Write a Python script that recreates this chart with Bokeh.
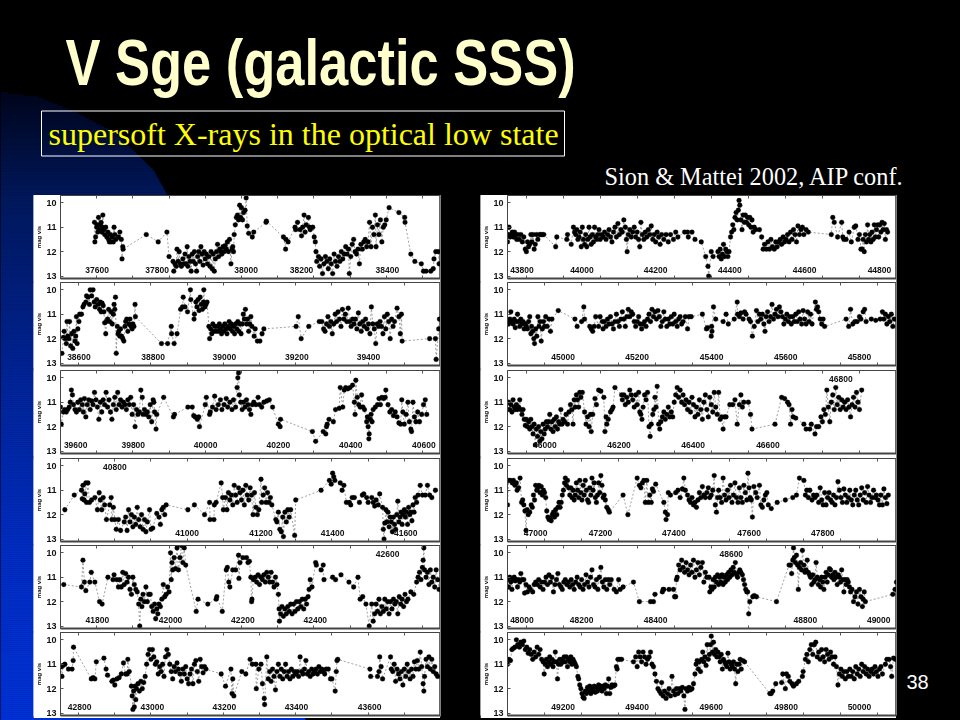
from bokeh.plotting import figure
from bokeh.layouts import column
from bokeh.embed import file_html
from bokeh.resources import INLINE
from bokeh.core.properties import value
from bokeh.models import Range1d, LinearAxis, FixedTicker, GlobalInlineStyleSheet
import numpy as np

title_text = "V Sge (galactic SSS)"
subtitle_text = "supersoft X-rays in the optical low state"
credit_text = "Sion & Mattei 2002, AIP conf."
slide_number = "38"

row_1 = [(37594,10.8),(37595,11.6),(37597,11.4),(37600,11.0),(37601,10.9),(37603,11.2),(37605,10.6),(37608,11.1),(37610,10.9),(37612,10.8),(37614,11.2),(37616,11.0),(37617,10.5),(37620,11.1),(37622,11.3),(37625,11.0),(37628,11.4),(37631,11.2),(37633,11.5),(37635,11.6),(37638,11.3),(37640,11.6),(37643,11.4),(37646,11.6),(37648,11.0),(37650,11.3),(37653,11.5),(37660,11.4),(37664,11.2),(37668,11.5),(37670,12.3),(37672,11.8),(37673,11.9),(37737,11.3),(37770,11.6),(37794,11.2),(37800,12.2),(37811,12.4),(37813,12.8),(37816,12.5),(37820,12.6),(37822,11.9),(37825,12.4),(37828,12.0),(37831,12.5),(37834,12.6),(37838,12.3),(37841,12.5),(37844,12.1),(37847,12.5),(37850,11.8),(37852,12.6),(37855,12.2),(37858,12.4),(37861,12.8),(37864,12.1),(37867,12.4),(37870,12.0),(37873,12.5),(37876,12.8),(37879,12.2),(37882,12.0),(37885,12.4),(37888,11.8),(37891,12.1),(37894,12.55),(37897,12.0),(37900,12.3),(37903,12.1),(37906,12.5),(37910,12.2),(37913,12.6),(37916,12.0),(37919,12.7),(37922,12.1),(37925,12.8),(37928,12.3),(37931,12.0),(37934,11.7),(37937,12.2),(37940,11.9),(37943,12.0),(37946,12.1),(37949,11.8),(37952,12.0),(37955,11.75),(37958,11.9),(37961,11.6),(37964,12.0),(37967,11.5),(37971,12.5),(37974,11.9),(37976,11.8),(37978,12.0),(37980,11.3),(37983,10.9),(37986,10.6),(37989,10.5),(37992,10.7),(37995,10.1),(37998,10.6),(38000,10.2),(38003,10.7),(38006,10.4),(38010,10.3),(38013,9.8),(38016,10.95),(38020,11.25),(38030,11.4),(38034,11.2),(38068,10.8),(38069,10.75),(38116,11.4),(38122,11.9),(38123,11.5),(38129,11.6),(38148,11.0),(38150,11.1),(38155,10.8),(38162,11.1),(38166,11.35),(38169,11.0),(38173,10.5),(38176,11.2),(38179,10.9),(38185,10.6),(38188,11.0),(38190,11.1),(38197,11.0),(38201,11.4),(38204,11.6),(38206,12.0),(38208,12.4),(38213,12.2),(38216,12.6),(38220,12.3),(38224,12.9),(38228,12.5),(38232,12.2),(38236,12.4),(38240,12.7),(38244,12.3),(38248,12.5),(38252,12.9),(38256,12.1),(38260,12.4),(38264,12.6),(38268,12.2),(38272,12.4),(38276,12.0),(38280,12.3),(38284,12.1),(38288,11.8),(38292,12.1),(38296,11.9),(38298,12.9),(38302,12.2),(38306,11.7),(38310,11.5),(38314,12.0),(38318,12.1),(38322,11.9),(38326,12.5),(38330,11.7),(38334,11.9),(38338,11.6),(38342,11.5),(38346,11.8),(38350,11.6),(38354,10.8),(38358,11.8),(38362,11.0),(38366,11.3),(38370,10.5),(38372,11.8),(38376,10.9),(38380,11.3),(38384,10.7),(38388,11.6),(38392,11.0),(38396,10.9),(38400,10.7),(38408,10.2),(38435,10.4),(38451,10.6),(38452,10.8),(38468,12.1),(38479,12.4),(38497,12.5),(38503,12.8),(38510,12.8),(38523,12.8),(38530,12.7),(38532,12.3),(38537,12.0),(38544,12.0),(38546,12.5)]

row_2 = [(38554,12.6),(38558,11.95),(38560,11.7),(38563,12.0),(38566,12.2),(38568,11.3),(38570,11.9),(38573,12.0),(38575,11.3),(38578,12.3),(38581,11.8),(38584,12.4),(38587,11.7),(38590,12.1),(38592,11.9),(38594,11.1),(38596,12.2),(38598,11.6),(38601,11.3),(38603,11.0),(38608,11.0),(38612,10.7),(38615,10.6),(38620,10.5),(38622,10.25),(38626,10.3),(38630,10.6),(38632,10.0),(38636,10.25),(38640,10.0),(38643,10.5),(38646,10.7),(38650,10.4),(38654,10.6),(38658,10.8),(38660,10.5),(38662,10.9),(38665,10.55),(38668,10.65),(38670,10.9),(38672,11.35),(38675,11.8),(38677,11.3),(38680,11.2),(38683,10.8),(38686,11.3),(38690,10.9),(38693,11.4),(38696,11.0),(38698,10.6),(38700,10.8),(38702,10.3),(38704,12.6),(38707,11.5),(38709,11.8),(38711,11.7),(38714,11.9),(38716,11.6),(38719,11.9),(38722,12.0),(38725,12.1),(38728,11.5),(38730,11.3),(38733,11.2),(38736,11.7),(38739,11.4),(38742,11.2),(38745,11.5),(38748,11.6),(38750,11.4),(38753,11.5),(38756,10.6),(38757,11.1),(38829,12.2),(38846,12.2),(38856,11.5),(38857,11.8),(38864,12.2),(38872,11.8),(38882,10.8),(38887,10.7),(38889,10.3),(38894,10.7),(38901,10.9),(38909,10.0),(38910,10.4),(38919,11.2),(38920,11.0),(38924,10.5),(38927,10.7),(38930,10.4),(38933,10.85),(38936,10.3),(38939,10.6),(38942,10.8),(38945,10.5),(38946,10.0),(38949,10.7),(38952,10.6),(38955,10.5),(38960,11.5),(38962,12.0),(38965,11.6),(38968,11.8),(38971,11.4),(38974,11.7),(38977,11.5),(38980,11.7),(38983,11.5),(38986,11.7),(38989,11.4),(38992,11.6),(38995,11.8),(38998,11.5),(39001,11.7),(39004,11.4),(39007,11.6),(39010,11.8),(39013,11.5),(39016,11.3),(39019,11.6),(39022,11.4),(39025,11.7),(39028,11.5),(39031,11.8),(39034,11.4),(39037,11.6),(39040,11.3),(39043,11.7),(39046,11.4),(39049,11.8),(39052,11.4),(39055,11.0),(39058,11.2),(39061,10.8),(39064,11.4),(39067,11.2),(39070,11.7),(39073,11.4),(39076,11.1),(39079,11.5),(39085,11.9),(39088,11.6),(39094,12.1),(39101,12.1),(39107,11.8),(39112,11.6),(39201,11.5),(39207,11.1),(39215,12.0),(39236,11.5),(39265,11.3),(39272,11.3),(39277,11.6),(39281,11.7),(39285,11.4),(39289,11.1),(39293,11.5),(39297,11.3),(39301,11.8),(39305,11.4),(39309,11.0),(39313,11.3),(39317,10.9),(39321,11.2),(39325,11.5),(39329,10.8),(39333,11.2),(39337,11.0),(39341,11.3),(39345,10.75),(39349,11.3),(39353,11.5),(39357,11.2),(39361,11.4),(39365,11.2),(39369,11.6),(39373,10.95),(39377,11.4),(39381,11.7),(39385,11.3),(39389,11.5),(39393,11.2),(39397,11.6),(39401,11.4),(39405,11.8),(39409,10.7),(39413,11.4),(39417,11.6),(39421,12.2),(39425,11.4),(39429,11.5),(39433,11.3),(39437,11.5),(39441,11.8),(39445,11.1),(39449,11.6),(39453,11.0),(39457,11.3),(39461,12.0),(39465,11.2),(39469,11.5),(39473,11.3),(39480,10.75),(39485,11.1),(39489,11.8),(39492,11.0),(39494,12.1),(39570,12.0),(39586,12.0),(39588,12.85),(39595,11.6),(39597,11.2)]

row_3 = [(39600,11.2),(39602,11.9),(39608,11.4),(39612,11.3),(39616,11.4),(39620,11.3),(39624,11.2),(39627,11.0),(39630,10.5),(39633,10.7),(39636,11.1),(39640,11.3),(39644,11.4),(39648,11.0),(39652,11.3),(39656,10.9),(39660,11.1),(39663,11.4),(39666,10.85),(39670,11.6),(39674,11.1),(39678,10.9),(39682,11.3),(39686,10.95),(39690,11.1),(39694,10.6),(39698,10.9),(39702,11.2),(39706,11.7),(39710,11.0),(39714,11.4),(39718,10.9),(39722,11.1),(39726,10.6),(39730,11.2),(39734,10.9),(39738,11.4),(39742,11.7),(39746,11.1),(39750,10.8),(39754,11.3),(39758,10.6),(39762,11.1),(39766,10.9),(39770,11.2),(39774,11.0),(39778,11.1),(39782,11.3),(39786,10.9),(39790,11.1),(39794,10.8),(39798,11.5),(39802,11.1),(39806,12.0),(39810,11.3),(39814,11.5),(39818,11.4),(39822,10.5),(39826,10.8),(39828,11.5),(39832,11.3),(39836,11.5),(39840,11.4),(39844,11.6),(39848,11.1),(39852,11.8),(39856,10.9),(39858,11.0),(39860,11.4),(39864,12.1),(39866,11.5),(39885,10.8),(39912,11.6),(39915,11.5),(39952,11.2),(39964,11.2),(39968,11.55),(39972,11.6),(39978,11.7),(39982,11.6),(39984,12.0),(40000,11.1),(40003,10.8),(40012,11.5),(40014,11.4),(40020,11.2),(40026,10.75),(40030,11.3),(40036,11.1),(40042,10.9),(40046,11.3),(40052,11.1),(40058,10.85),(40062,11.2),(40068,11.0),(40074,11.3),(40078,10.9),(40084,11.2),(40088,10.4),(40090,10.0),(40092,9.8),(40094,10.7),(40098,11.0),(40102,11.3),(40106,11.0),(40110,11.2),(40114,10.9),(40118,11.1),(40122,11.3),(40126,11.5),(40130,11.1),(40134,11.0),(40140,11.1),(40146,10.8),(40150,11.1),(40156,11.2),(40162,11.0),(40170,10.95),(40177,10.9),(40186,11.2),(40202,11.9),(40207,12.0),(40208,11.7),(40296,12.2),(40305,12.6),(40326,12.2),(40333,12.3),(40335,12.0),(40337,11.9),(40342,11.7),(40354,11.8),(40360,11.3),(40370,11.25),(40373,10.4),(40380,11.2),(40384,10.5),(40388,10.4),(40394,10.45),(40400,10.4),(40407,10.3),(40412,11.0),(40414,11.5),(40416,10.1),(40420,10.8),(40424,11.1),(40428,11.2),(40432,10.7),(40436,11.2),(40440,11.3),(40446,11.8),(40448,11.6),(40450,12.0),(40452,12.5),(40453,12.3),(40456,11.7),(40458,11.5),(40461,11.8),(40464,11.3),(40470,11.2),(40476,11.1),(40480,10.85),(40484,11.1),(40488,10.8),(40493,10.85),(40497,10.8),(40499,10.5),(40505,11.1),(40510,11.4),(40515,11.3),(40520,11.55),(40525,11.4),(40530,11.6),(40535,11.85),(40540,11.9),(40543,10.9),(40546,11.4),(40550,11.9),(40555,11.5),(40560,11.0),(40564,11.8),(40568,12.1),(40570,12.2),(40574,11.0),(40578,11.6),(40582,11.8),(40587,11.4),(40592,11.8),(40598,11.5),(40603,11.1),(40608,10.9),(40612,11.5)]

row_4 = [(40662,11.8),(40688,11.2),(40708,11.0),(40710,11.35),(40712,10.8),(40715,11.4),(40717,11.15),(40720,10.7),(40722,11.5),(40726,10.7),(40730,11.5),(40736,11.4),(40745,11.3),(40752,11.8),(40757,11.1),(40760,11.4),(40764,11.8),(40768,11.3),(40772,11.6),(40777,12.2),(40786,11.6),(40790,11.3),(40792,12.2),(40796,11.7),(40800,12.2),(40804,12.6),(40810,12.2),(40816,12.65),(40826,12.3),(40830,12.1),(40834,12.65),(40838,11.8),(40842,12.3),(40846,12.0),(40850,12.5),(40854,12.1),(40858,12.4),(40862,11.7),(40866,12.2),(40870,12.5),(40874,12.0),(40878,12.6),(40882,12.2),(40886,12.7),(40890,12.3),(40896,11.8),(40900,12.6),(40905,12.55),(40916,11.95),(40922,12.1),(40926,12.4),(40930,11.8),(40934,11.7),(40938,12.0),(40942,11.6),(41002,11.8),(41020,11.6),(41048,12.0),(41062,11.5),(41063,12.2),(41074,12.2),(41075,11.6),(41080,11.5),(41094,10.7),(41098,11.3),(41100,11.8),(41106,11.3),(41110,11.8),(41114,11.1),(41118,11.4),(41122,11.2),(41126,11.6),(41130,10.8),(41134,11.2),(41138,11.5),(41142,10.9),(41146,11.1),(41150,11.4),(41154,11.0),(41158,11.6),(41162,10.8),(41166,11.2),(41170,11.4),(41174,10.9),(41178,11.2),(41182,12.0),(41186,11.1),(41190,11.7),(41194,12.0),(41198,11.8),(41204,10.55),(41206,11.5),(41210,11.2),(41214,10.9),(41218,11.5),(41222,11.1),(41226,11.5),(41230,11.3),(41234,11.6),(41245,12.2),(41248,12.3),(41252,11.9),(41256,12.6),(41260,12.7),(41264,12.1),(41266,12.9),(41270,11.9),(41274,12.3),(41278,11.8),(41282,12.1),(41286,11.8),(41297,12.85),(41300,11.4),(41370,11.0),(41393,10.6),(41398,10.75),(41402,10.3),(41405,10.45),(41408,10.6),(41423,10.7),(41428,11.0),(41433,10.8),(41440,11.5),(41448,11.5),(41452,11.6),(41456,11.3),(41462,11.3),(41476,11.5),(41484,11.2),(41488,11.15),(41496,11.3),(41500,11.5),(41510,11.3),(41514,11.5),(41518,11.65),(41522,11.4),(41528,11.6),(41532,11.15),(41540,11.7),(41542,12.6),(41544,13.0),(41546,12.35),(41549,11.8),(41552,12.3),(41555,11.9),(41558,12.5),(41561,12.1),(41564,12.3),(41567,12.7),(41570,12.1),(41573,12.4),(41576,12.6),(41579,12.0),(41582,11.45),(41585,12.3),(41588,12.1),(41591,11.9),(41594,12.4),(41597,12.0),(41600,11.8),(41603,12.1),(41606,11.9),(41609,12.4),(41612,11.7),(41615,12.0),(41618,11.9),(41621,12.25),(41624,11.6),(41627,11.9),(41630,11.3),(41634,11.5),(41638,11.2),(41644,10.8),(41650,11.2),(41658,11.2),(41664,10.8),(41670,11.2),(41676,11.3),(41686,11.0)]

row_5 = [(41709,11.3),(41758,11.4),(41762,10.3),(41766,11.2),(41770,11.55),(41781,11.2),(41785,10.8),(41795,11.2),(41808,12.0),(41815,12.1),(41831,11.0),(41845,11.1),(41848,10.9),(41856,11.1),(41860,11.4),(41864,11.1),(41868,11.4),(41872,10.8),(41876,11.3),(41880,10.85),(41884,11.2),(41888,11.0),(41892,11.5),(41896,11.7),(41900,11.0),(41904,11.3),(41908,11.5),(41912,11.6),(41916,12.1),(41919,13.0),(41922,11.9),(41925,12.2),(41928,11.7),(41932,12.0),(41936,11.4),(41940,12.0),(41944,11.7),(41948,11.7),(41952,12.2),(41956,12.4),(41960,12.1),(41963,12.7),(41966,12.3),(41969,12.5),(41972,12.1),(41976,12.2),(41980,11.9),(41984,11.3),(41988,11.8),(41992,11.7),(41996,11.4),(42000,11.6),(42004,10.0),(42006,11.1),(42008,10.4),(42010,10.7),(42014,10.2),(42018,10.65),(42022,9.8),(42026,10.7),(42030,10.2),(42034,9.7),(42038,10.4),(42042,9.8),(42046,10.5),(42075,12.4),(42080,11.9),(42107,12.1),(42130,11.9),(42132,11.8),(42147,12.4),(42158,10.7),(42161,10.6),(42165,11.2),(42168,11.4),(42176,10.7),(42184,10.7),(42192,10.1),(42193,11.05),(42196,10.4),(42204,10.2),(42214,10.2),(42218,10.4),(42222,10.35),(42226,11.0),(42228,12.0),(42229,11.9),(42233,11.1),(42238,11.0),(42242,11.2),(42246,10.9),(42250,11.3),(42254,11.0),(42258,11.1),(42262,10.9),(42266,11.2),(42270,10.8),(42274,11.0),(42278,11.2),(42282,10.8),(42286,11.2),(42290,11.4),(42294,11.0),(42298,11.3),(42302,11.7),(42304,12.3),(42305,12.8),(42308,12.5),(42312,12.2),(42316,12.6),(42320,12.3),(42324,12.5),(42328,12.2),(42332,12.4),(42336,12.1),(42340,12.5),(42344,12.1),(42348,12.4),(42352,12.0),(42356,12.3),(42360,12.0),(42364,12.2),(42368,11.9),(42372,12.3),(42376,11.9),(42380,12.1),(42384,11.8),(42387,11.5),(42390,11.1),(42395,11.4),(42405,10.4),(42407,10.5),(42420,10.7),(42426,10.5),(42428,11.1),(42452,11.0),(42460,11.1),(42475,10.9),(42497,11.2),(42510,11.4),(42522,11.0),(42528,11.9),(42535,11.8),(42544,12.1),(42553,13.0),(42560,12.1),(42564,12.8),(42568,12.5),(42572,12.1),(42576,12.4),(42580,11.9),(42584,12.5),(42588,12.2),(42592,12.4),(42596,11.9),(42600,12.3),(42604,12.0),(42608,12.5),(42612,12.0),(42616,12.3),(42620,11.9),(42624,12.1),(42628,12.0),(42632,12.5),(42636,11.8),(42640,12.1),(42644,11.9),(42648,12.2),(42652,11.7),(42656,12.0),(42660,11.9),(42668,11.6),(42676,11.7),(42684,11.2),(42688,11.0),(42692,10.8),(42696,11.1),(42700,10.6),(42702,10.3),(42704,9.8),(42706,10.7),(42710,11.0),(42714,10.8),(42718,11.3),(42722,10.7),(42726,11.2),(42730,11.0),(42734,11.4),(42738,10.7),(42742,11.1),(42746,11.5)]

row_6 = [(42753,11.1),(42754,11.5),(42757,11.05),(42762,11.0),(42772,11.2),(42782,11.2),(42785,10.85),(42786,10.3),(42835,11.6),(42840,11.55),(42845,11.6),(42849,10.9),(42870,10.75),(42876,11.2),(42880,11.45),(42892,11.7),(42896,11.65),(42900,11.85),(42906,11.6),(42912,11.55),(42918,11.4),(42924,10.95),(42930,11.4),(42934,11.4),(42936,10.8),(42940,11.3),(42946,11.9),(42948,12.3),(42950,12.85),(42952,12.1),(42954,12.75),(42956,11.9),(42958,12.45),(42960,12.0),(42964,11.8),(42968,12.1),(42972,11.7),(42976,12.0),(42980,11.75),(42984,11.5),(42988,11.0),(42992,10.6),(42996,10.4),(43000,10.8),(43004,10.4),(43008,10.7),(43012,11.0),(43016,10.9),(43020,11.4),(43024,11.1),(43028,11.3),(43032,11.0),(43036,11.5),(43040,10.7),(43044,10.4),(43048,10.6),(43052,11.0),(43056,11.3),(43060,11.6),(43064,11.1),(43068,11.3),(43072,10.95),(43076,11.2),(43080,11.4),(43084,11.7),(43088,11.2),(43092,11.4),(43096,11.1),(43100,11.6),(43104,11.8),(43108,11.4),(43112,11.2),(43116,11.8),(43120,11.0),(43124,10.85),(43128,11.3),(43132,11.7),(43136,10.8),(43140,11.1),(43144,11.35),(43148,11.1),(43152,11.2),(43194,11.4),(43206,11.9),(43221,11.2),(43224,12.2),(43226,11.6),(43229,12.3),(43251,11.3),(43262,11.4),(43274,10.8),(43280,11.0),(43290,11.0),(43291,12.0),(43298,11.2),(43304,11.0),(43308,11.8),(43313,12.4),(43314,12.65),(43320,10.7),(43324,11.6),(43328,11.3),(43332,11.7),(43336,11.2),(43340,11.5),(43344,12.05),(43348,11.3),(43352,11.0),(43356,11.5),(43360,11.2),(43364,11.6),(43368,11.3),(43372,11.0),(43376,11.5),(43380,11.3),(43384,11.6),(43388,11.2),(43392,11.5),(43396,11.3),(43400,11.4),(43404,11.3),(43408,11.5),(43412,10.7),(43416,11.3),(43420,11.4),(43424,11.2),(43428,10.85),(43432,11.4),(43436,11.3),(43440,11.5),(43444,11.2),(43448,11.4),(43452,11.3),(43456,11.2),(43460,11.4),(43464,11.1),(43468,11.3),(43472,11.2),(43476,11.3),(43480,11.4),(43484,11.2),(43490,11.2),(43496,11.6),(43500,11.6),(43509,12.1),(43512,11.3),(43514,10.85),(43516,10.8),(43605,11.2),(43607,11.5),(43626,11.5),(43630,11.3),(43632,10.7),(43636,11.1),(43640,11.6),(43662,10.7),(43664,11.2),(43668,11.3),(43672,11.0),(43676,11.7),(43680,11.2),(43684,11.4),(43688,11.6),(43692,11.3),(43696,11.85),(43700,11.2),(43704,11.5),(43708,11.0),(43712,11.3),(43716,11.6),(43720,11.2),(43724,11.5),(43728,10.9),(43732,11.2),(43736,10.85),(43740,11.2),(43744,10.5),(43748,11.1),(43752,11.8),(43754,12.1),(43756,11.5),(43760,10.8),(43764,11.1),(43768,10.7),(43772,11.2),(43776,10.8),(43780,11.3),(43784,11.1),(43788,11.4),(43792,11.5)]

row_7 = [(43750,11.6),(43752,11.3),(43754,11.0),(43757,11.4),(43760,11.3),(43763,11.2),(43766,11.4),(43769,11.2),(43772,11.3),(43775,11.5),(43778,11.3),(43782,11.5),(43786,11.3),(43790,11.6),(43794,11.4),(43798,11.9),(43801,12.0),(43804,11.6),(43807,11.8),(43810,11.7),(43813,11.3),(43816,11.6),(43819,11.3),(43822,11.9),(43825,11.7),(43828,11.3),(43832,11.5),(43836,11.3),(43840,11.3),(43844,11.3),(43848,11.3),(43880,11.8),(43883,11.4),(43910,11.5),(43912,11.3),(43922,11.7),(43928,11.0),(43931,11.2),(43934,11.3),(43937,11.1),(43940,11.5),(43943,11.4),(43946,11.2),(43949,11.8),(43952,11.0),(43955,11.5),(43958,11.7),(43961,11.3),(43964,11.8),(43967,11.5),(43970,11.0),(43973,11.4),(43976,11.7),(43979,11.3),(43982,11.6),(43985,11.0),(43988,11.4),(43991,11.5),(43994,11.3),(43997,11.1),(44000,11.5),(44004,11.3),(44008,11.4),(44012,11.2),(44016,11.5),(44020,11.3),(44024,11.1),(44028,11.4),(44032,11.6),(44036,11.2),(44040,11.0),(44044,11.4),(44048,10.85),(44052,11.3),(44056,11.1),(44060,11.2),(44064,10.7),(44068,11.0),(44071,11.5),(44073,12.0),(44076,11.3),(44080,11.1),(44084,11.4),(44088,11.2),(44092,11.0),(44096,11.4),(44100,11.2),(44104,11.5),(44107,11.8),(44110,10.8),(44114,11.3),(44118,11.5),(44122,11.2),(44126,11.4),(44130,11.1),(44134,11.3),(44138,10.95),(44142,11.5),(44146,11.3),(44150,11.6),(44154,11.2),(44158,11.4),(44162,11.7),(44166,11.3),(44172,11.5),(44178,11.3),(44184,11.6),(44190,11.3),(44198,11.5),(44204,11.2),(44210,11.4),(44228,11.2),(44236,11.2),(44238,11.4),(44248,11.2),(44256,11.5),(44273,11.6),(44285,12.2),(44291,12.6),(44293,13.0),(44300,12.0),(44305,12.2),(44318,12.0),(44321,12.2),(44324,11.9),(44327,12.3),(44330,12.1),(44333,11.7),(44336,12.2),(44339,11.9),(44342,12.0),(44345,12.2),(44348,12.0),(44352,11.4),(44355,11.2),(44358,10.9),(44361,11.1),(44364,10.6),(44367,10.4),(44370,10.7),(44373,10.3),(44375,9.9),(44377,10.1),(44380,10.7),(44383,11.1),(44386,10.5),(44389,10.8),(44392,10.5),(44395,10.8),(44398,10.6),(44401,10.9),(44404,10.6),(44407,11.0),(44410,10.7),(44413,11.2),(44416,11.0),(44420,11.1),(44430,11.1),(44436,11.4),(44440,11.9),(44444,11.7),(44449,11.9),(44453,11.6),(44457,11.9),(44461,11.5),(44465,11.8),(44470,11.9),(44474,11.6),(44478,11.8),(44482,11.6),(44486,11.5),(44490,11.7),(44494,11.4),(44498,11.6),(44502,11.5),(44506,11.3),(44510,11.6),(44514,11.2),(44518,11.5),(44522,11.1),(44526,11.3),(44530,11.6),(44534,10.95),(44538,11.3),(44542,11.1),(44546,11.0),(44550,11.3),(44556,11.1),(44562,11.2),(44624,11.3),(44628,10.6),(44632,10.8),(44641,11.4),(44652,10.8),(44655,11.4),(44658,11.5),(44664,11.5),(44672,11.2),(44678,11.6),(44686,11.0),(44690,10.95),(44696,11.5),(44700,11.3),(44704,11.9),(44707,11.9),(44710,11.5),(44713,12.0),(44716,11.3),(44719,11.6),(44722,10.9),(44725,11.5),(44728,11.3),(44731,11.6),(44734,11.2),(44737,11.5),(44740,10.9),(44743,11.4),(44746,11.1),(44749,10.9),(44752,11.4),(44755,10.9),(44758,11.2),(44761,10.8),(44764,11.1),(44767,10.85),(44770,11.5),(44773,11.1),(44776,11.2)]

row_8 = [(44800,11.3),(44803,11.4),(44806,11.2),(44809,10.9),(44812,11.3),(44815,11.4),(44818,11.2),(44821,11.55),(44824,11.3),(44827,11.0),(44830,11.3),(44833,11.5),(44836,11.2),(44839,11.4),(44842,11.3),(44845,11.6),(44848,11.4),(44851,11.5),(44854,11.6),(44857,11.3),(44860,11.1),(44863,11.8),(44865,11.5),(44868,11.7),(44871,12.0),(44873,12.2),(44876,11.6),(44879,11.9),(44882,11.1),(44885,11.5),(44888,11.3),(44891,12.1),(44894,11.6),(44897,11.3),(44900,11.5),(44903,11.1),(44907,11.5),(44912,11.2),(44916,11.7),(44920,11.2),(44937,10.85),(44982,11.2),(44988,11.5),(45000,11.3),(45006,10.7),(45008,11.2),(45022,11.5),(45026,11.6),(45030,11.7),(45034,11.5),(45038,11.1),(45046,11.5),(45050,11.1),(45056,11.3),(45058,11.6),(45062,11.3),(45066,11.5),(45070,11.2),(45074,11.4),(45078,11.1),(45082,11.4),(45086,11.6),(45090,11.3),(45094,11.0),(45098,11.3),(45102,11.5),(45106,11.2),(45110,10.9),(45114,11.2),(45118,11.5),(45122,11.1),(45126,10.8),(45130,11.1),(45134,10.9),(45138,11.0),(45142,11.3),(45146,11.5),(45150,11.3),(45154,11.1),(45158,11.4),(45162,11.6),(45166,11.4),(45170,11.3),(45174,11.5),(45178,11.2),(45182,11.0),(45186,11.3),(45190,10.8),(45194,11.1),(45198,10.9),(45202,11.2),(45206,10.85),(45210,11.1),(45214,11.5),(45218,11.3),(45222,10.9),(45226,11.2),(45230,11.5),(45234,11.2),(45238,11.4),(45242,11.1),(45246,11.4),(45250,11.0),(45254,11.3),(45258,11.5),(45262,11.2),(45266,11.1),(45270,11.4),(45274,11.3),(45280,11.1),(45286,11.6),(45290,11.1),(45296,11.1),(45326,11.0),(45337,11.6),(45340,11.55),(45350,11.9),(45351,11.5),(45352,11.7),(45356,10.7),(45362,11.2),(45382,11.3),(45390,11.0),(45396,11.4),(45412,11.2),(45420,10.5),(45421,11.0),(45426,11.1),(45430,10.95),(45436,11.2),(45440,10.9),(45444,11.0),(45452,11.2),(45456,11.3),(45461,11.9),(45466,11.5),(45472,10.85),(45476,11.3),(45480,11.0),(45484,11.2),(45488,11.0),(45492,11.4),(45495,11.7),(45498,11.1),(45502,10.9),(45506,11.3),(45510,11.1),(45514,10.6),(45518,11.2),(45522,11.0),(45526,10.8),(45530,11.1),(45534,10.7),(45538,10.9),(45542,11.1),(45546,11.4),(45550,11.2),(45554,11.0),(45558,11.3),(45562,11.1),(45566,11.4),(45570,11.1),(45574,11.3),(45578,11.0),(45582,11.3),(45586,10.9),(45590,11.2),(45594,11.4),(45598,10.85),(45602,11.2),(45606,11.4),(45610,10.9),(45614,11.3),(45618,11.0),(45622,11.4),(45631,10.5),(45634,10.8),(45637,10.7),(45640,10.9),(45644,11.2),(45648,11.4),(45652,11.2),(45656,11.5),(45714,11.2),(45721,11.5),(45726,10.8),(45732,11.4),(45738,11.3),(45744,11.3),(45750,11.1),(45754,11.2),(45760,10.9),(45764,10.8),(45768,11.3),(45782,11.2),(45794,11.25),(45806,11.2),(45812,10.9),(45816,11.2),(45820,11.0),(45824,11.4),(45828,11.1),(45832,11.3),(45836,11.0),(45840,11.5),(45844,11.2)]

row_9 = [(45850,11.3),(45853,11.0),(45856,11.3),(45859,11.1),(45862,11.4),(45865,10.9),(45868,11.2),(45871,11.3),(45874,11.1),(45877,11.3),(45880,11.2),(45883,10.9),(45886,11.3),(45889,11.5),(45892,11.3),(45895,11.7),(45898,11.95),(45901,11.7),(45904,12.0),(45907,11.8),(45910,12.1),(45913,11.7),(45916,12.0),(45919,12.3),(45922,11.9),(45925,12.75),(45928,12.1),(45931,12.4),(45934,12.0),(45937,12.6),(45940,12.2),(45943,12.5),(45946,11.9),(45949,12.3),(45952,12.1),(45955,11.8),(45958,12.0),(45961,11.8),(45964,11.5),(45967,12.1),(45970,11.8),(45973,12.2),(45976,11.7),(45979,12.0),(45982,11.6),(45985,12.1),(45988,11.8),(45991,11.9),(45994,11.3),(45997,11.9),(46000,11.7),(46004,11.8),(46008,11.5),(46012,11.9),(46016,11.4),(46020,11.1),(46024,11.3),(46027,11.9),(46030,10.9),(46033,11.2),(46036,10.7),(46039,10.9),(46042,11.2),(46045,10.6),(46048,10.8),(46052,10.6),(46058,11.4),(46062,11.9),(46066,11.6),(46070,12.0),(46074,11.5),(46076,12.2),(46080,11.5),(46086,10.85),(46090,11.1),(46096,10.5),(46102,10.55),(46110,10.8),(46113,12.2),(46116,11.6),(46118,11.9),(46122,11.7),(46128,11.4),(46132,11.3),(46135,11.2),(46140,10.4),(46158,10.7),(46160,10.9),(46164,10.7),(46168,11.1),(46172,10.8),(46176,11.0),(46180,10.5),(46184,10.7),(46188,10.9),(46192,11.2),(46196,10.7),(46200,11.1),(46204,10.6),(46207,11.4),(46210,11.5),(46213,11.7),(46216,11.2),(46220,10.7),(46224,10.9),(46228,10.6),(46232,12.0),(46235,12.4),(46238,11.9),(46242,11.5),(46245,11.3),(46248,10.8),(46251,11.2),(46254,10.35),(46258,11.9),(46261,12.1),(46264,11.8),(46268,11.6),(46272,11.4),(46276,11.7),(46280,11.5),(46284,11.2),(46288,11.6),(46292,11.4),(46296,11.6),(46300,11.0),(46304,10.7),(46308,10.4),(46312,10.8),(46316,10.5),(46320,11.0),(46324,10.7),(46328,11.1),(46332,10.9),(46336,11.3),(46340,11.0),(46344,11.4),(46348,10.8),(46352,11.1),(46356,11.6),(46360,11.2),(46364,11.5),(46368,10.9),(46372,11.3),(46376,11.7),(46380,11.0),(46384,10.7),(46388,11.3),(46392,11.6),(46396,10.8),(46400,11.1),(46404,11.4),(46408,10.6),(46412,11.2),(46416,11.5),(46420,10.6),(46424,11.7),(46428,11.6),(46432,12.1),(46436,11.6),(46440,11.6),(46450,11.1),(46458,11.1),(46464,10.9),(46470,11.9),(46476,11.1),(46480,10.7),(46484,11.2),(46488,11.0),(46500,11.0),(46506,11.5),(46510,12.1),(46572,11.9),(46590,10.8),(46598,10.85),(46606,11.0),(46610,11.1),(46614,11.9),(46618,11.3),(46621,11.6),(46628,11.65),(46650,11.9),(46656,12.1),(46666,12.1),(46670,11.9),(46680,12.3),(46684,12.0),(46690,12.0),(46696,11.6),(46700,11.8),(46704,11.3),(46708,11.5),(46712,10.5),(46716,11.2),(46720,11.8),(46724,11.0),(46728,10.7),(46732,11.3),(46736,10.4),(46740,11.1),(46744,10.8),(46748,11.3),(46752,10.9),(46756,11.2),(46760,11.0),(46764,11.3),(46768,10.9),(46772,11.2),(46776,11.6),(46780,11.1),(46784,10.8),(46788,11.2),(46792,10.6),(46796,11.0),(46800,11.3),(46806,10.5)]

row_10 = [(46900,11.6),(46903,10.6),(46908,10.6),(46913,10.7),(46916,10.6),(46920,10.8),(46924,10.7),(46926,11.0),(46930,10.9),(46934,10.5),(46938,11.5),(46941,11.4),(46944,11.6),(46947,11.85),(46950,12.65),(46953,11.8),(46956,12.0),(46960,11.9),(46964,11.6),(46967,11.7),(46970,11.2),(46973,11.4),(46976,10.8),(46979,11.0),(46982,10.9),(46985,10.8),(46988,11.1),(46991,10.85),(46994,11.2),(46997,11.0),(47000,11.1),(47003,11.3),(47006,11.85),(47009,12.1),(47012,12.2),(47015,12.15),(47018,12.25),(47021,12.0),(47024,11.9),(47027,12.1),(47030,11.8),(47033,12.0),(47036,11.7),(47039,11.5),(47042,11.7),(47045,11.5),(47048,11.2),(47051,11.0),(47054,10.7),(47056,10.5),(47059,10.8),(47062,10.6),(47065,10.9),(47068,11.2),(47071,10.9),(47074,11.3),(47077,11.0),(47080,11.4),(47083,11.2),(47086,10.7),(47089,11.0),(47092,11.3),(47095,10.6),(47098,11.1),(47101,11.4),(47104,10.8),(47107,11.2),(47110,10.6),(47113,11.0),(47116,11.4),(47119,11.5),(47122,10.9),(47125,11.2),(47128,10.5),(47131,11.0),(47134,10.7),(47137,11.3),(47140,11.5),(47143,11.2),(47146,10.7),(47149,11.1),(47152,10.4),(47155,10.8),(47158,11.3),(47161,11.2),(47164,11.4),(47168,11.7),(47172,11.8),(47175,11.9),(47212,11.2),(47225,12.0),(47250,10.5),(47256,10.8),(47260,10.9),(47264,10.7),(47268,10.6),(47272,11.5),(47276,10.6),(47280,11.5),(47284,11.2),(47288,11.5),(47291,10.95),(47294,11.05),(47300,10.75),(47322,11.5),(47326,11.9),(47328,12.2),(47332,12.0),(47334,11.1),(47340,11.2),(47354,11.1),(47360,11.0),(47366,11.3),(47372,10.95),(47376,10.5),(47380,11.0),(47386,11.2),(47390,11.4),(47394,11.5),(47398,11.3),(47402,11.6),(47406,11.5),(47410,11.7),(47414,11.4),(47418,11.1),(47422,11.3),(47426,10.85),(47430,11.2),(47434,11.3),(47438,11.1),(47442,10.9),(47446,11.3),(47450,11.2),(47454,11.0),(47458,10.4),(47461,11.6),(47464,11.9),(47467,11.3),(47470,11.0),(47474,11.3),(47478,11.5),(47482,10.5),(47486,11.2),(47490,11.4),(47494,11.0),(47498,11.3),(47502,10.8),(47506,11.5),(47510,11.2),(47514,10.7),(47518,11.3),(47522,11.5),(47526,10.9),(47530,11.3),(47534,11.5),(47538,10.8),(47542,11.1),(47546,11.4),(47549,10.3),(47552,10.9),(47555,11.3),(47558,11.4),(47561,12.1),(47565,10.85),(47570,11.1),(47574,11.3),(47580,10.8),(47584,11.6),(47588,11.7),(47592,11.4),(47596,11.2),(47600,11.1),(47604,11.6),(47612,11.75),(47628,11.5),(47650,11.4),(47670,11.3),(47680,11.2),(47688,10.5),(47700,10.6),(47704,11.2),(47708,11.0),(47712,11.3),(47716,11.0),(47722,11.4),(47726,11.2),(47730,11.3),(47735,11.2),(47740,11.5),(47744,10.9),(47748,11.4),(47752,11.6),(47756,11.1),(47760,11.6),(47764,11.3),(47768,11.1),(47772,11.4),(47776,11.5),(47780,11.2),(47784,11.6),(47788,11.3),(47792,10.65),(47796,11.0),(47800,11.3),(47804,11.5),(47808,10.95),(47812,11.2),(47816,11.5),(47820,11.3),(47824,11.0),(47828,11.4),(47832,11.6),(47836,11.2),(47840,11.0),(47844,11.4),(47848,11.6),(47852,11.2),(47856,10.9),(47860,11.4),(47864,11.1),(47868,11.5),(47872,10.85),(47876,11.2),(47880,11.5),(47884,11.3),(47888,11.0),(47892,11.3),(47896,11.2),(47900,11.4),(47904,11.6),(47908,11.2),(47912,11.6),(47916,10.95),(47920,11.3),(47924,11.55),(47928,11.2)]

row_11 = [(47950,11.1),(47953,11.4),(47956,11.0),(47959,11.2),(47962,11.5),(47965,11.1),(47968,11.0),(47971,11.15),(47974,11.1),(47977,11.4),(47980,11.1),(47983,11.2),(47986,10.85),(47990,11.1),(47994,11.1),(47996,11.65),(48000,11.3),(48004,11.6),(48008,11.4),(48012,11.5),(48018,11.6),(48022,11.3),(48026,11.2),(48030,11.3),(48034,11.1),(48038,11.4),(48042,11.2),(48046,11.5),(48050,11.2),(48054,11.0),(48058,11.3),(48062,10.9),(48066,11.2),(48070,11.0),(48074,11.6),(48078,11.3),(48082,11.1),(48086,10.85),(48090,11.3),(48094,11.4),(48098,11.5),(48102,11.2),(48106,11.1),(48110,11.3),(48114,11.2),(48118,11.4),(48122,11.1),(48126,11.3),(48130,11.5),(48134,11.2),(48138,11.0),(48142,11.3),(48146,11.4),(48150,11.1),(48154,11.5),(48158,11.3),(48162,10.9),(48166,11.2),(48170,11.4),(48174,11.0),(48178,10.7),(48182,11.3),(48186,11.4),(48190,11.1),(48194,11.5),(48198,11.0),(48202,10.6),(48206,11.2),(48210,11.4),(48214,11.1),(48218,11.5),(48222,11.1),(48226,11.3),(48230,11.1),(48238,11.5),(48244,11.6),(48250,11.1),(48254,11.5),(48262,11.4),(48290,11.2),(48306,12.0),(48336,12.0),(48344,12.0),(48348,11.7),(48368,11.6),(48370,11.5),(48372,11.5),(48386,11.5),(48398,11.5),(48401,11.8),(48404,11.8),(48406,11.1),(48408,11.0),(48412,10.5),(48416,10.7),(48420,10.3),(48424,10.6),(48428,10.8),(48432,10.4),(48436,10.7),(48440,10.9),(48444,10.5),(48448,10.8),(48452,10.3),(48456,11.0),(48460,10.7),(48464,10.4),(48468,10.9),(48472,10.6),(48476,10.4),(48480,11.2),(48484,10.8),(48488,11.0),(48494,11.0),(48496,11.6),(48499,11.4),(48502,11.5),(48505,11.1),(48508,11.4),(48511,11.0),(48514,11.2),(48517,10.9),(48520,11.3),(48523,11.0),(48526,11.2),(48529,10.9),(48532,11.3),(48535,11.0),(48538,11.2),(48541,10.9),(48544,11.1),(48547,10.8),(48550,11.0),(48553,10.7),(48556,10.9),(48559,10.6),(48562,10.8),(48565,10.4),(48568,10.9),(48571,11.0),(48574,10.8),(48577,10.7),(48580,10.8),(48584,10.9),(48587,11.1),(48590,11.3),(48593,11.5),(48596,11.6),(48598,11.6),(48601,12.5),(48604,12.0),(48612,11.8),(48616,11.75),(48622,11.8),(48676,12.0),(48710,10.5),(48714,10.5),(48717,10.85),(48720,10.3),(48722,9.8),(48724,10.2),(48727,10.4),(48730,10.1),(48733,10.5),(48735,11.5),(48738,10.6),(48741,10.4),(48744,10.7),(48746,9.9),(48750,10.5),(48753,10.8),(48756,10.7),(48759,10.3),(48762,10.8),(48765,10.9),(48768,11.0),(48771,11.3),(48774,10.9),(48777,11.2),(48780,11.1),(48783,10.4),(48786,11.0),(48789,11.3),(48792,11.1),(48795,11.4),(48798,11.0),(48801,11.2),(48804,11.5),(48807,11.0),(48810,10.8),(48813,11.2),(48816,10.9),(48819,10.65),(48822,10.7),(48825,11.0),(48828,10.9),(48831,11.1),(48834,10.8),(48837,11.0),(48840,11.3),(48843,10.9),(48846,11.0),(48849,11.2),(48852,10.7),(48855,11.1),(48858,11.6),(48861,11.1),(48864,11.3),(48867,11.1),(48870,11.2),(48873,11.4),(48876,11.6),(48880,11.5),(48884,12.0),(48888,11.8),(48892,11.6),(48896,12.1),(48900,11.5),(48904,11.8),(48908,12.2),(48910,11.9),(48913,11.6),(48916,12.0),(48990,11.7),(48996,11.5),(49000,11.2)]

row_12 = [(49000,11.0),(49004,10.8),(49008,10.85),(49012,10.4),(49016,10.35),(49020,10.3),(49024,10.0),(49028,10.2),(49032,10.3),(49036,10.1),(49040,10.2),(49044,10.05),(49048,10.4),(49052,10.3),(49056,10.55),(49060,10.4),(49064,10.6),(49068,10.8),(49072,10.5),(49076,10.7),(49080,10.3),(49084,10.6),(49088,10.4),(49092,10.8),(49096,10.9),(49099,11.4),(49102,11.0),(49105,10.8),(49108,11.1),(49111,10.9),(49114,10.7),(49117,11.0),(49120,10.8),(49123,11.1),(49126,10.9),(49129,10.5),(49132,10.9),(49135,11.6),(49138,11.0),(49141,10.8),(49144,11.0),(49147,10.8),(49150,10.9),(49153,10.7),(49156,10.9),(49159,10.7),(49162,11.1),(49165,10.8),(49168,10.9),(49171,10.7),(49174,11.0),(49177,10.8),(49180,10.9),(49183,11.0),(49186,11.1),(49190,11.5),(49192,11.6),(49195,11.85),(49198,12.0),(49201,12.2),(49204,12.35),(49207,12.4),(49210,12.1),(49213,12.2),(49216,11.95),(49219,12.1),(49222,11.9),(49225,12.2),(49228,12.0),(49231,12.1),(49234,11.9),(49237,12.15),(49240,11.95),(49243,12.1),(49246,11.85),(49249,12.0),(49252,11.9),(49255,12.1),(49258,11.9),(49261,12.0),(49264,11.85),(49267,12.2),(49270,11.9),(49273,11.6),(49276,12.2),(49279,11.95),(49282,11.85),(49286,11.9),(49290,11.85),(49294,11.1),(49296,11.2),(49298,10.8),(49303,10.8),(49308,10.8),(49340,10.9),(49346,10.7),(49350,11.1),(49354,10.5),(49358,10.7),(49362,10.9),(49366,10.5),(49370,10.7),(49374,11.0),(49378,10.8),(49382,10.7),(49386,10.5),(49390,11.0),(49394,11.1),(49398,11.4),(49402,11.7),(49406,12.0),(49410,12.1),(49414,12.2),(49416,11.75),(49420,12.3),(49424,12.1),(49428,12.4),(49432,12.2),(49436,12.0),(49440,12.3),(49444,11.5),(49448,12.1),(49452,12.25),(49456,12.0),(49460,12.2),(49464,12.0),(49468,12.1),(49472,11.95),(49476,12.3),(49479,12.85),(49482,12.0),(49486,12.1),(49490,11.95),(49494,12.05),(49498,12.0),(49502,11.8),(49506,11.4),(49509,11.0),(49512,10.85),(49515,11.2),(49518,10.9),(49521,11.3),(49524,10.8),(49527,10.5),(49530,10.9),(49533,10.7),(49536,11.05),(49539,10.2),(49542,10.8),(49545,10.6),(49548,10.2),(49550,9.85),(49553,10.5),(49556,10.1),(49559,10.6),(49562,10.4),(49565,10.7),(49568,10.5),(49571,10.7),(49574,10.9),(49577,10.6),(49580,11.2),(49583,10.8),(49586,10.9),(49589,11.0),(49592,11.1),(49595,10.55),(49598,10.9),(49601,11.2),(49604,11.0),(49607,11.1),(49610,10.9),(49613,11.2),(49616,11.8),(49619,11.0),(49622,11.3),(49625,11.0),(49628,10.8),(49631,11.2),(49635,10.85),(49640,10.9),(49708,12.2),(49712,12.2),(49716,12.1),(49724,11.8),(49740,11.75),(49743,11.4),(49750,12.0),(49753,11.4),(49758,11.5),(49762,11.7),(49768,11.8),(49772,11.9),(49780,11.8),(49786,11.7),(49796,11.5),(49798,11.3),(49804,10.8),(49808,10.6),(49812,10.9),(49816,10.4),(49820,10.2),(49824,10.6),(49828,10.2),(49832,10.1),(49836,10.7),(49840,10.5),(49844,10.8),(49848,10.4),(49852,10.7),(49856,10.9),(49860,10.4),(49864,10.6),(49868,10.8),(49872,10.5),(49876,10.7),(49880,11.0),(49884,10.7),(49888,11.1),(49892,11.85),(49896,11.4),(49900,11.2),(49904,11.5),(49908,11.3),(49912,11.6),(49916,11.3),(49920,11.5),(49924,11.2),(49928,11.5),(49932,11.3),(49936,11.6),(49940,11.1),(49944,11.4),(49948,11.2),(49952,11.5),(49956,11.0),(49960,11.3),(49964,11.1),(49968,11.4),(49972,11.2),(49976,11.5),(49980,11.3),(49984,11.2),(49988,11.4),(49992,11.1),(49996,11.3),(50000,11.5),(50004,11.2),(50008,11.1),(50012,11.4),(50020,11.0),(50024,10.8),(50030,10.8),(50034,11.1),(50037,11.5),(50042,10.75),(50047,10.8)]

rows = [row_1, row_2, row_3, row_4, row_5, row_6, row_7, row_8, row_9, row_10, row_11, row_12]
starts = [37500, 38550, 39600, 40650, 41700, 42750, 43750, 44800, 45850, 46900, 47950, 49000]

# tick labels: (text, JD where it is printed)
label_rows = [
 [("37600",37601),("37800",37767),("38000",38013),("38200",38166),("38400",38403)],
 [("38600",38601),("38800",38806),("39000",39003),("39200",39203),("39400",39401)],
 [("39600",39642),("39800",39801),("40000",40001),("40200",40202),("40400",40402),("40600",40604)],
 [("40800",40800),("41000",41000),("41200",41204),("41400",41402),("41600",41604)],
 [("41800",41802),("42000",42004),("42200",42204),("42400",42404),("42600",42604)],
 [("42800",42803),("43000",43004),("43200",43203),("43400",43402),("43600",43604)],
 [("43800",43789),("44000",43951),("44200",44150),("44400",44350),("44600",44552),("44800",44754)],
 [("45000",44950),("45200",45150),("45400",45351),("45600",45551),("45800",45750)],
 [("46000",45951),("46200",46151),("46400",46351),("46600",46553),("46800",46750)],
 [("47000",46976),("47200",47151),("47400",47349),("47600",47552),("47800",47751)],
 [("48000",47989),("48200",48150),("48400",48350),("48600",48554),("48800",48754),("49000",48952)],
 [("49200",49150),("49400",49350),("49600",49550),("49800",49752),("50000",49950)],
]
high_labels = {"40800", "42600", "46800", "48600"}

tops = [194.5, 282, 369.5, 457.5, 544.5, 632]
FONT = "Liberation Sans"


def panel(i):
    left_col = i < 6
    x0, w = (33, 407) if left_col else (480, 416)
    t = tops[i % 6]
    h = 86
    p = figure(width=w, height=h, sizing_mode="fixed", output_backend="svg", toolbar_location=None,
               frame_align=False,
               x_range=Range1d(starts[i], starts[i] + 1050),
               y_range=Range1d(13.1, 9.7), x_axis_location=None, y_axis_location=None,
               min_border_left=26, min_border_right=0, min_border_top=0, min_border_bottom=3,
               background_fill_color="white", border_fill_color="white",
               outline_line_color="#666666", outline_line_width=1,
               styles={"position": "absolute", "left": f"{x0}px", "top": f"{t}px",
                       "width": f"{w}px", "height": f"{h}px", "filter": "blur(0.45px)"})
    p.grid.visible = False
    jd = [a for a, _ in rows[i]]
    mag = [b for _, b in rows[i]]
    p.line(jd, mag, line_color="#777777", line_width=0.7, line_dash="2 2")
    p.scatter(jd, mag, size=4.8, fill_color="black", line_color="black", line_width=0.3)
    lx = [a for _, a in label_rows[i]]
    ly = [10.05 if s in high_labels else 12.76 for s, _ in label_rows[i]]
    ls = [s for s, _ in label_rows[i]]
    p.text(lx, ly, text=ls, text_font=value(FONT), text_font_style="bold", text_font_size="8.5px",
           text_align="center", text_baseline="middle", text_color="#111111")
    first = (starts[i] // 100 + 1) * 100
    ticks = list(range(first, starts[i] + 1050, 100))
    for place in ("below", "above"):
        ax = LinearAxis(ticker=FixedTicker(ticks=ticks), major_tick_in=3, major_tick_out=0,
                        minor_tick_in=0, minor_tick_out=0,
                        major_label_overrides={t_: "" for t_ in ticks},
                        major_label_standoff=0, axis_line_color="#444444",
                        axis_line_width=2 if place == "below" else 1,
                        major_tick_line_color="#555555")
        p.add_layout(ax, place)
    ay = LinearAxis(ticker=FixedTicker(ticks=[10, 11, 12, 13]), major_tick_in=3, major_tick_out=0,
                    minor_tick_in=0, minor_tick_out=0, axis_label="mag vis",
                    axis_label_text_font=FONT, axis_label_text_font_size="6px",
                    axis_label_text_font_style="bold", axis_label_standoff=1,
                    axis_label_text_color="#111111",
                    major_label_text_font=FONT, major_label_text_font_size="9px",
                    major_label_text_font_style="bold", major_label_text_color="#111111",
                    major_label_standoff=4, axis_line_color="#444444",
                    major_tick_line_color="#555555")
    p.add_layout(ay, "left")
    return p


bg = figure(width=960, height=720, sizing_mode="fixed", output_backend="svg", toolbar_location=None,
            frame_align=False,
            x_range=Range1d(0, 960), y_range=Range1d(720, 0), x_axis_location=None, y_axis_location=None,
            min_border=0, min_border_left=0, min_border_right=0, min_border_top=0, min_border_bottom=0,
            background_fill_color="black", border_fill_color="black", outline_line_color=None,
            styles={"position": "absolute", "left": "0px", "top": "0px", "width": "960px", "height": "720px"},
            stylesheets=[GlobalInlineStyleSheet(css="html,body{background:#000;overflow:hidden}")])
bg.grid.visible = False

# blue corner of the slide template
edge_y = [92, 97, 113, 133, 170, 197, 720]
edge_x = [0, 38, 77, 115, 153, 168, 305]
grad_y = [92, 200, 370, 550, 720]
grad_g = [6, 25, 36, 45, 50]
grad_b = [30, 95, 150, 195, 215]
ys = np.arange(92, 720, 2)
xr = np.interp(ys + 1, edge_y, edge_x)
cols = ["#%02x%02x%02x" % (0, int(np.interp(y, grad_y, grad_g)), int(np.interp(y, grad_y, grad_b))) for y in ys]
bg.quad(left=0, right=xr, top=ys, bottom=ys + 2, fill_color=cols, line_color=cols, line_width=0.5)
# white sheets holding the panels
bg.quad(left=[33, 480], right=[440, 896], top=[194.5, 194.5], bottom=[716, 715], fill_color="white", line_color=None)
bg.quad(left=[41], right=[564], top=[110.5], bottom=[155.5], fill_color=None, line_color="white", line_width=1)

bg.text([48], [133], text=[subtitle_text], text_font=value("Liberation Serif"), text_font_size="32px",
        text_color="#FFFF00", text_align="left", text_baseline="alphabetic")
bg.text([604], [175.5], text=[credit_text], text_font=value("Liberation Serif"), text_font_size="24.3px",
        text_color="white", text_align="left", text_baseline="alphabetic")
bg.text([906], [681], text=[slide_number], text_font=value("Liberation Sans"), text_font_size="20px",
        text_color="white", text_align="left", text_baseline="alphabetic")

# slide title: Arial-bold text squeezed horizontally as on the slide
tt = figure(width=800, height=76, sizing_mode="fixed", output_backend="svg", toolbar_location=None,
            frame_align=False,
            x_range=Range1d(0, 800), y_range=Range1d(76, 0), x_axis_location=None, y_axis_location=None,
            min_border=0, min_border_left=0, min_border_right=0, min_border_top=0, min_border_bottom=0,
            background_fill_alpha=0, border_fill_alpha=0, outline_line_color=None,
            styles={"position": "absolute", "left": "65px", "top": "28px", "width": "800px", "height": "76px",
                    "transform": "scaleX(0.82)", "transform-origin": "0 0"})
tt.grid.visible = False
tt.text([0], [35], text=[title_text], text_font=value("Liberation Sans"), text_font_style="bold",
        text_font_size="64px", text_color="#FFFFCC", text_align="left", text_baseline="alphabetic")

page = column(bg, tt, *[panel(i) for i in range(12)], width=944, height=704, spacing=0)
open("out.html", "w").write(file_html(page, INLINE))
